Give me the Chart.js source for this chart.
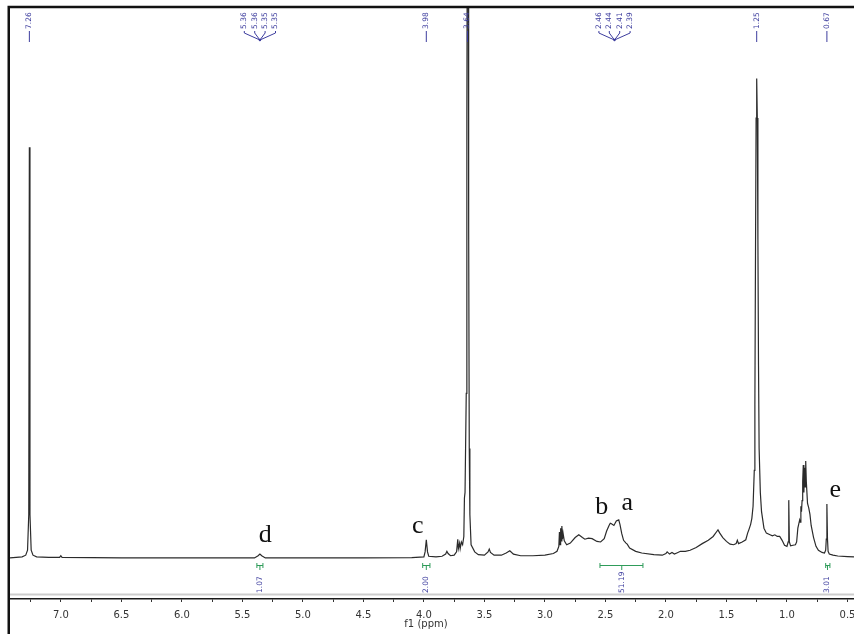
<!DOCTYPE html>
<html>
<head>
<meta charset="utf-8">
<script src="https://cdn.jsdelivr.net/npm/chart.js@4.4.1/dist/chart.umd.min.js"></script>
<style>
  html, body { margin: 0; padding: 0; background: #ffffff; }
  canvas { display: block; }
</style>
</head>
<body>
<canvas id="nmr" width="854" height="634"></canvas>
<script>
// 1H NMR spectrum (CDCl3): chemical shift in ppm and relative intensity
const shiftPpm = [
  7.42, 7.32, 7.29, 7.275, 7.265, 7.26, 7.255, 7.245, 7.23, 7.20, 7.10, 7.01, 7.00, 6.99,
  6.50, 6.00, 5.60, 5.40, 5.37, 5.355, 5.34, 5.31, 5.00, 4.50, 4.10,
  4.00, 3.99, 3.98, 3.97, 3.96, 3.90, 3.85, 3.82, 3.81, 3.80, 3.78, 3.75, 3.73, 3.72, 3.715,
  3.705, 3.70, 3.69, 3.68, 3.67, 3.665, 3.66, 3.65, 3.645, 3.64, 3.635, 3.63, 3.625, 3.62,
  3.61, 3.58, 3.55, 3.50, 3.47, 3.46, 3.45, 3.42, 3.36, 3.32, 3.29, 3.26, 3.20, 3.10, 3.00,
  2.93, 2.90, 2.885, 2.88, 2.875, 2.87, 2.865, 2.86, 2.855, 2.85, 2.84, 2.82, 2.79, 2.75,
  2.72, 2.69, 2.67, 2.64, 2.61, 2.57, 2.54, 2.51, 2.49, 2.47, 2.46, 2.45, 2.43, 2.41, 2.39,
  2.38, 2.365, 2.35, 2.33, 2.32, 2.30, 2.25, 2.20, 2.10, 2.03, 2.00, 1.99, 1.97, 1.95, 1.93,
  1.91, 1.88, 1.84, 1.80, 1.75, 1.70, 1.65, 1.61, 1.58, 1.57, 1.555, 1.53, 1.50, 1.47, 1.44,
  1.42, 1.41, 1.40, 1.37, 1.34, 1.325, 1.315, 1.30, 1.29, 1.28, 1.27, 1.265, 1.26, 1.255,
  1.25, 1.245, 1.24, 1.235, 1.23, 1.22, 1.21, 1.19, 1.17, 1.14, 1.12, 1.10, 1.08, 1.06,
  1.04, 1.02, 1.00, 0.99, 0.985, 0.98, 0.97, 0.95, 0.93, 0.92, 0.91, 0.905, 0.895, 0.89,
  0.885, 0.88, 0.875, 0.87, 0.865, 0.86, 0.855, 0.85, 0.845, 0.84, 0.83, 0.82, 0.81, 0.80,
  0.78, 0.76, 0.74, 0.71, 0.69, 0.68, 0.675, 0.67, 0.665, 0.66, 0.65, 0.62, 0.58, 0.50, 0.446
];
const intensity = [
  0.1, 0.3, 0.6, 1.5, 8.0, 74.7, 8.0, 1.5, 0.6, 0.3, 0.2, 0.2, 0.5, 0.2,
  0.1, 0.1, 0.1, 0.1, 0.5, 0.8, 0.5, 0.1, 0.1, 0.1, 0.15,
  0.3, 1.2, 3.4, 1.2, 0.4, 0.3, 0.4, 0.8, 1.3, 0.9, 0.5, 0.6, 1.2, 3.5, 1.8,
  2.8, 1.8, 3.0, 2.5, 4.0, 11.0, 12.0, 30.0, 80.0, 130.0, 130.0, 60.0, 20.0, 8.0,
  2.5, 1.2, 0.7, 0.6, 1.2, 1.7, 1.1, 0.6, 0.6, 1.0, 1.4, 0.8, 0.5, 0.5, 0.6,
  0.9, 1.3, 2.2, 4.8, 2.5, 5.5, 3.2, 5.9, 3.5, 4.6, 3.2, 2.5, 2.8, 3.8,
  4.3, 3.8, 3.5, 3.7, 3.6, 3.1, 3.0, 3.6, 5.0, 6.0, 6.4, 6.3, 6.0, 6.8, 7.0,
  6.2, 4.5, 3.3, 2.8, 2.6, 1.9, 1.3, 1.0, 0.7, 0.6, 0.9, 1.2, 0.8, 1.1, 0.8,
  1.0, 1.3, 1.3, 1.5, 2.0, 2.7, 3.3, 4.0, 4.9, 5.2, 4.6, 3.8, 3.1, 2.6, 2.5,
  2.7, 3.3, 2.7, 3.0, 3.4, 4.6, 5.2, 6.2, 7.3, 9.5, 16.0, 28.0, 55.0, 80.0,
  87.2, 80.0, 58.0, 35.0, 20.0, 12.0, 8.5, 5.5, 4.6, 4.3, 4.1, 4.3, 4.0, 4.0,
  3.3, 2.4, 2.2, 3.0, 10.6, 3.0, 2.3, 2.4, 2.5, 3.0, 5.5, 6.0, 7.0, 6.6,
  9.5, 8.5, 10.5, 14.0, 17.0, 12.0, 16.5, 13.0, 17.7, 14.0, 10.0, 9.2, 8.0, 6.0,
  3.8, 2.2, 1.5, 1.1, 1.0, 1.5, 3.5, 9.9, 3.5, 1.3, 0.8, 0.6, 0.45, 0.35, 0.3
];

// x axis: tick marks every 0.25 ppm, labels every 0.5 ppm
const axisTicks = [7.25, 7.0, 6.75, 6.5, 6.25, 6.0, 5.75, 5.5, 5.25, 5.0, 4.75, 4.5, 4.25,
  4.0, 3.75, 3.5, 3.25, 3.0, 2.75, 2.5, 2.25, 2.0, 1.75, 1.5, 1.25, 1.0, 0.75, 0.5];
const labelledTicks = [7.0, 6.5, 6.0, 5.5, 5.0, 4.5, 4.0, 3.5, 3.0, 2.5, 2.0, 1.5, 1.0, 0.5];
const tickLabels = ['7.0', '6.5', '6.0', '5.5', '5.0', '4.5', '4.0', '3.5', '3.0', '2.5',
  '2.0', '1.5', '1.0', '0.5'];

// peak picking (multiplets grouped)
const peakGroups = [
  ['7.26'], ['5.36', '5.36', '5.35', '5.35'], ['3.98'], ['3.64'],
  ['2.46', '2.44', '2.41', '2.39'], ['1.25'], ['0.67']
];

// integrals
const integralFrom = [5.38, 4.01, 2.545, 0.68];
const integralTo = [5.33, 3.95, 2.19, 0.645];
const integralCentre = [5.355, 3.98, 2.365, 0.665];
const integralText = ['1.07', '2.00', '51.19', '3.01'];

// proton assignments
const assignText = ['d', 'c', 'b', 'a', 'e'];
const assignPpm = [5.31, 4.05, 2.53, 2.32, 0.60];
const assignLevel = [3.05, 4.6, 8.1, 8.8, 11.1];

const BLUE = '#3d3d9e';
const GREEN = '#2f9c5a';

function labelFor(v) {
  const i = labelledTicks.findIndex(t => Math.abs(t - v) < 1e-6);
  return i >= 0 ? tickLabels[i] : '';
}

function vText(ctx, text, x, y) {
  ctx.save();
  ctx.translate(x, y);
  ctx.rotate(-Math.PI / 2);
  ctx.textAlign = 'left';
  ctx.textBaseline = 'middle';
  ctx.fillText(text, 0, 0);
  ctx.restore();
}

const decorations = {
  id: 'decorations',
  afterDraw(chart) {
    const { ctx, chartArea } = chart;
    const xs = chart.scales.x, ys = chart.scales.y;
    ctx.save();

    // integral baseline band
    ctx.strokeStyle = '#cdcdcd';
    ctx.lineWidth = 2;
    ctx.beginPath();
    ctx.moveTo(chartArea.left, 594.5);
    ctx.lineTo(chartArea.right, 594.5);
    ctx.stroke();

    // peak labels along the top
    ctx.font = '7.5px "DejaVu Sans"';
    ctx.fillStyle = BLUE;
    ctx.strokeStyle = BLUE;
    ctx.lineWidth = 1;
    peakGroups.forEach(group => {
      const vals = group.map(Number);
      const mean = vals.reduce((a, b) => a + b, 0) / vals.length;
      const cx = xs.getPixelForValue(mean);
      const n = group.length;
      group.forEach((txt, i) => {
        const lx = n === 1 ? cx : cx + (i - (n - 1) / 2) * 10.4;
        vText(ctx, txt, lx, 29);
        ctx.beginPath();
        if (n === 1) {
          ctx.moveTo(lx, 31);
          ctx.lineTo(lx, 42);
        } else {
          ctx.moveTo(lx, 31);
          ctx.lineTo(lx, 33);
          ctx.lineTo(cx, 40);
        }
        ctx.stroke();
      });
      if (n > 1) {
        ctx.beginPath();
        ctx.arc(cx, 40, 1.2, 0, Math.PI * 2);
        ctx.fill();
      }
    });

    // integrals
    integralText.forEach((txt, i) => {
      const a = xs.getPixelForValue(integralFrom[i]);
      const b = xs.getPixelForValue(integralTo[i]);
      const c = xs.getPixelForValue(integralCentre[i]);
      ctx.strokeStyle = GREEN;
      ctx.lineWidth = 1;
      ctx.beginPath();
      ctx.moveTo(a, 565.5); ctx.lineTo(b, 565.5);
      ctx.moveTo(a, 563); ctx.lineTo(a, 568);
      ctx.moveTo(b, 563); ctx.lineTo(b, 568);
      ctx.moveTo(c, 565.5); ctx.lineTo(c, 570);
      ctx.stroke();
      ctx.fillStyle = BLUE;
      ctx.font = '7.5px "DejaVu Sans"';
      vText(ctx, txt, c, 593);
    });

    // assignment letters
    ctx.fillStyle = '#111111';
    ctx.font = '26px "Liberation Serif"';
    ctx.textAlign = 'center';
    ctx.textBaseline = 'alphabetic';
    assignText.forEach((t, i) => {
      ctx.fillText(t, xs.getPixelForValue(assignPpm[i]), ys.getPixelForValue(assignLevel[i]));
    });

    // axis title
    ctx.fillStyle = '#333333';
    ctx.font = '10px "DejaVu Sans"';
    ctx.textAlign = 'center';
    ctx.textBaseline = 'middle';
    ctx.fillText('f1 (ppm)', (chartArea.left + chartArea.right) / 2 - 6, 624);

    // frame
    ctx.strokeStyle = '#111111';
    ctx.lineWidth = 2.5;
    ctx.beginPath();
    ctx.moveTo(7.5, 7);
    ctx.lineTo(854, 7);
    ctx.moveTo(8.75, 5.75);
    ctx.lineTo(8.75, 634);
    ctx.stroke();

    ctx.restore();
  }
};

new Chart(document.getElementById('nmr').getContext('2d'), {
  type: 'line',
  data: {
    datasets: [{
      data: shiftPpm.map((x, i) => ({ x, y: intensity[i] })),
      borderColor: '#2b2b2b',
      borderWidth: 1.2,
      pointRadius: 0,
      tension: 0,
      fill: false
    }]
  },
  options: {
    responsive: false,
    animation: false,
    devicePixelRatio: 1,
    layout: { autoPadding: false, padding: { left: 10, right: 0, top: 8, bottom: 0 } },
    plugins: { legend: { display: false }, tooltip: { enabled: false } },
    scales: {
      x: {
        type: 'linear',
        reverse: true,
        min: 0.446,
        max: 7.42,
        afterBuildTicks: s => { s.ticks = axisTicks.map(v => ({ value: v })); },
        afterFit: s => {
          s.height = 35;
          s.paddingLeft = 0;
          s.paddingRight = 0;
        },
        grid: { drawOnChartArea: false, drawTicks: true, tickLength: 3, color: '#333333', lineWidth: 1 },
        border: { display: true, color: '#1a1a1a', width: 1.5 },
        ticks: {
          autoSkip: false,
          maxRotation: 0,
          padding: 7,
          color: '#333333',
          font: { family: 'DejaVu Sans', size: 10 },
          callback: v => labelFor(v)
        }
      },
      y: { display: false, min: -7.36, max: 100 }
    }
  },
  plugins: [decorations]
});
</script>
</body>
</html>
